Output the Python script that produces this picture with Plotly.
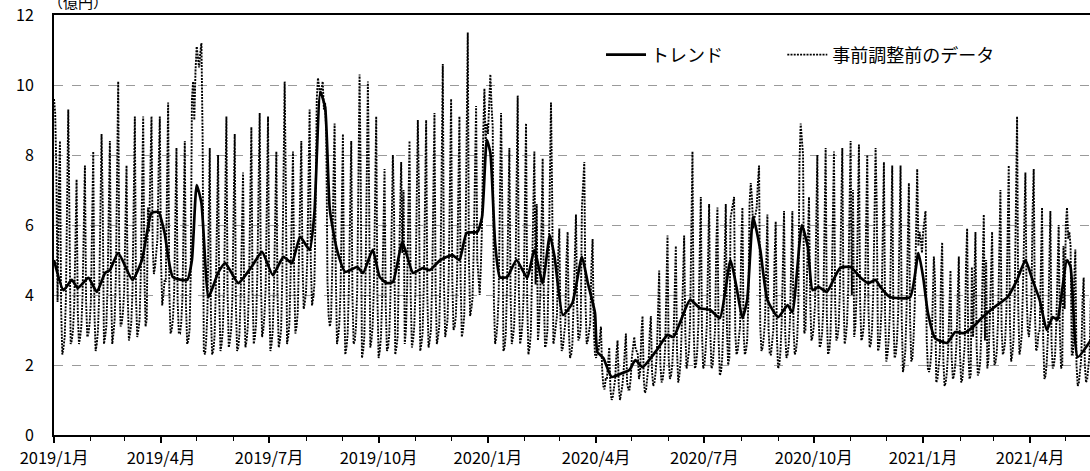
import plotly.graph_objects as go
import pandas as pd

# 事前調整前のデータ (daily, 億円) from 2019-01-01.
# First three days, then one row per Fri..Thu week, then a short tail.
raw_head = [9.6, 9.2, 7.5]
raw_weeks = [
    [3.8, 6.9, 8.4, 3.6, 2.3, 2.5, 2.8],
    [3.9, 7.5, 9.3, 6.2, 2.6, 2.7, 3.0],
    [3.7, 6.0, 7.3, 3.5, 2.6, 2.8, 3.1],
    [4.0, 6.4, 7.7, 3.8, 2.8, 2.9, 3.2],
    [3.8, 6.6, 8.1, 3.5, 2.4, 2.6, 3.0],
    [4.0, 7.0, 8.6, 6.5, 2.6, 2.8, 3.1],
    [4.2, 7.0, 8.4, 4.1, 2.6, 2.9, 3.3],
    [4.5, 8.2, 10.1, 4.4, 3.1, 3.2, 3.5],
    [4.1, 6.4, 7.7, 4.0, 2.7, 2.9, 3.2],
    [4.1, 7.4, 9.1, 3.9, 2.8, 3.0, 3.3],
    [4.6, 7.4, 9.1, 4.6, 3.1, 3.3, 6.5],
    [5.8, 7.8, 9.1, 5.4, 4.6, 4.8, 5.2],
    [5.6, 7.6, 9.1, 5.0, 3.7, 4.0, 4.4],
    [4.4, 7.7, 9.5, 4.1, 2.9, 3.0, 3.3],
    [4.0, 6.7, 8.2, 3.8, 2.9, 2.9, 3.2],
    [3.9, 6.8, 8.4, 3.7, 2.6, 2.7, 3.0],
    [4.6, 9.6, 10.1, 9.0, 10.4, 11.1, 10.8],
    [10.5, 10.9, 11.2, 8.5, 2.4, 2.3, 2.7],
    [3.5, 6.6, 8.2, 3.4, 2.3, 2.4, 2.8],
    [4.0, 6.6, 8.0, 3.9, 2.4, 2.6, 3.0],
    [4.2, 7.4, 9.1, 4.0, 2.5, 2.7, 3.0],
    [3.9, 7.0, 8.6, 3.7, 2.4, 2.5, 2.9],
    [4.0, 6.2, 7.5, 3.9, 2.5, 2.7, 3.1],
    [4.3, 7.2, 8.8, 4.1, 2.6, 2.8, 3.2],
    [4.6, 7.5, 9.2, 4.5, 2.8, 3.0, 3.4],
    [4.2, 7.4, 9.1, 4.0, 2.4, 2.6, 3.0],
    [4.2, 6.8, 8.1, 4.0, 2.5, 2.7, 3.0],
    [4.5, 8.2, 10.1, 7.0, 2.6, 2.8, 3.2],
    [4.6, 6.8, 8.1, 4.5, 2.9, 3.1, 3.5],
    [5.0, 7.0, 8.4, 4.9, 3.6, 3.8, 4.1],
    [5.0, 7.6, 9.3, 4.9, 3.7, 3.9, 4.3],
    [6.5, 9.6, 10.2, 10.0, 9.7, 9.9, 10.1],
    [9.3, 9.5, 8.6, 4.4, 3.4, 3.1, 3.3],
    [4.7, 7.2, 8.9, 4.6, 2.6, 2.8, 3.2],
    [4.1, 7.0, 8.6, 3.9, 2.3, 2.5, 2.9],
    [4.2, 6.9, 8.4, 4.0, 2.6, 2.7, 3.1],
    [4.1, 8.3, 10.3, 7.2, 2.2, 2.4, 2.8],
    [4.4, 8.1, 10.1, 7.0, 2.5, 2.7, 3.1],
    [4.2, 7.4, 9.1, 4.0, 2.2, 2.4, 2.8],
    [3.9, 6.3, 7.6, 3.7, 2.4, 2.5, 2.9],
    [4.0, 6.6, 8.0, 6.4, 2.3, 2.5, 2.8],
    [4.6, 6.5, 7.8, 5.2, 7.0, 2.6, 3.0],
    [4.2, 6.9, 8.4, 4.0, 2.5, 2.7, 3.1],
    [4.1, 7.3, 9.0, 6.8, 2.4, 2.6, 2.9],
    [4.2, 7.3, 9.0, 4.0, 2.5, 2.7, 3.0],
    [4.3, 7.5, 9.2, 4.1, 2.6, 2.8, 3.1],
    [4.5, 8.6, 10.6, 4.3, 2.8, 3.0, 3.3],
    [4.6, 7.8, 9.6, 4.4, 3.0, 3.1, 3.4],
    [4.5, 7.4, 9.1, 4.4, 2.8, 3.0, 3.4],
    [5.2, 9.3, 11.5, 5.0, 3.4, 3.6, 3.9],
    [5.3, 7.7, 9.4, 5.0, 4.4, 4.0, 4.8],
    [6.0, 8.6, 9.9, 8.4, 8.9, 8.6, 9.6],
    [10.3, 9.4, 8.8, 3.8, 2.6, 2.8, 3.2],
    [4.0, 7.5, 9.2, 6.6, 2.4, 2.5, 2.9],
    [4.2, 6.7, 8.2, 4.0, 2.6, 2.8, 3.1],
    [4.3, 7.9, 9.7, 4.1, 2.6, 2.8, 3.2],
    [4.0, 7.2, 8.9, 3.8, 2.3, 2.5, 2.9],
    [4.5, 6.7, 8.1, 4.3, 6.6, 2.7, 3.1],
    [4.0, 6.5, 7.9, 3.9, 2.5, 2.6, 3.0],
    [4.7, 7.7, 9.5, 6.8, 2.6, 2.8, 3.1],
    [3.4, 5.1, 5.9, 3.2, 2.4, 2.5, 2.8],
    [3.2, 5.0, 5.8, 3.0, 2.2, 2.3, 2.6],
    [3.8, 5.5, 6.3, 3.7, 2.7, 2.8, 3.1],
    [6.5, 7.0, 7.8, 3.8, 2.6, 2.7, 3.0],
    [3.2, 4.8, 5.6, 3.0, 2.3, 2.2, 2.5],
    [2.4, 2.8, 3.1, 1.9, 1.4, 1.3, 1.6],
    [1.6, 2.2, 2.5, 1.3, 1.0, 1.1, 1.3],
    [1.6, 2.3, 2.7, 1.4, 1.0, 1.2, 1.4],
    [1.8, 2.6, 2.9, 1.5, 1.3, 1.3, 1.6],
    [2.2, 2.6, 2.8, 2.5, 2.4, 2.3, 1.6],
    [1.8, 2.9, 3.4, 1.6, 1.2, 1.3, 1.6],
    [2.0, 2.9, 3.4, 1.8, 1.4, 1.5, 1.8],
    [2.3, 3.9, 4.7, 2.0, 1.5, 1.6, 1.9],
    [2.5, 4.6, 5.7, 2.2, 1.6, 1.7, 2.0],
    [2.7, 4.5, 5.4, 2.4, 1.5, 1.7, 2.1],
    [3.1, 4.8, 5.7, 2.9, 1.9, 2.1, 2.4],
    [3.3, 6.6, 8.1, 3.0, 1.9, 2.0, 2.4],
    [3.2, 5.6, 6.8, 2.9, 1.9, 2.0, 2.4],
    [3.1, 5.4, 6.6, 2.9, 1.9, 2.0, 2.4],
    [3.0, 5.4, 6.5, 2.7, 1.7, 1.8, 2.2],
    [3.3, 5.5, 6.6, 3.0, 2.0, 2.2, 6.2],
    [6.4, 6.6, 6.8, 2.9, 2.3, 2.4, 2.7],
    [3.1, 5.4, 6.5, 2.9, 2.3, 2.4, 2.7],
    [3.8, 6.6, 7.2, 6.8, 5.9, 6.2, 6.3],
    [6.5, 7.2, 7.7, 3.1, 2.4, 2.5, 2.8],
    [3.3, 5.2, 6.3, 3.0, 2.3, 2.3, 2.6],
    [3.0, 5.0, 6.1, 2.8, 1.9, 2.0, 2.4],
    [3.2, 5.3, 6.4, 2.9, 2.2, 2.3, 2.6],
    [3.3, 5.3, 6.4, 3.0, 2.3, 2.4, 2.7],
    [3.6, 7.8, 8.9, 8.4, 8.0, 2.9, 3.0],
    [4.2, 5.6, 6.8, 3.9, 2.7, 2.8, 3.1],
    [3.7, 6.5, 8.0, 3.5, 2.5, 2.6, 2.9],
    [3.6, 6.7, 8.2, 3.4, 2.3, 2.4, 2.8],
    [4.0, 6.6, 8.1, 3.8, 2.7, 2.8, 3.1],
    [4.2, 6.7, 8.2, 4.0, 2.6, 2.8, 3.2],
    [4.2, 6.8, 8.4, 4.0, 7.0, 2.8, 3.1],
    [4.0, 6.8, 8.3, 3.8, 2.7, 2.8, 3.1],
    [3.9, 6.5, 8.0, 3.6, 2.5, 2.6, 3.0],
    [4.0, 6.7, 8.2, 6.5, 2.4, 2.5, 2.9],
    [3.6, 6.3, 7.8, 3.4, 2.1, 2.3, 2.7],
    [3.5, 6.3, 7.7, 3.3, 2.2, 2.3, 2.7],
    [3.5, 6.2, 7.7, 3.3, 1.8, 2.0, 2.4],
    [3.5, 5.9, 7.2, 3.3, 2.1, 2.2, 2.8],
    [3.8, 6.2, 7.6, 5.4, 5.8, 5.6, 5.2],
    [5.8, 6.2, 6.4, 2.7, 1.9, 1.8, 2.0],
    [2.4, 4.2, 5.1, 4.4, 1.5, 1.6, 1.9],
    [2.3, 4.5, 5.5, 2.1, 1.4, 1.5, 1.8],
    [2.4, 3.9, 4.7, 2.2, 1.6, 1.7, 2.0],
    [2.6, 4.2, 5.1, 2.3, 1.5, 1.6, 2.0],
    [2.6, 4.8, 5.9, 2.4, 1.6, 1.7, 4.8],
    [2.8, 4.8, 5.8, 2.5, 1.7, 1.8, 2.1],
    [3.0, 5.2, 6.3, 2.7, 5.0, 1.9, 2.2],
    [3.2, 4.8, 5.8, 2.9, 2.0, 2.1, 2.4],
    [3.3, 5.8, 7.0, 3.0, 2.3, 2.4, 2.7],
    [3.5, 6.3, 7.7, 3.2, 2.1, 2.3, 2.7],
    [3.9, 7.4, 9.1, 3.6, 2.3, 2.5, 2.9],
    [4.3, 6.3, 7.5, 4.0, 3.0, 2.8, 3.2],
    [3.7, 6.3, 7.6, 3.5, 2.4, 2.5, 2.9],
    [3.0, 5.3, 6.5, 2.7, 1.6, 1.7, 2.1],
    [2.9, 5.2, 6.4, 2.6, 1.9, 2.0, 2.3],
    [3.2, 5.0, 6.0, 2.9, 1.9, 2.0, 5.4],
    [3.6, 6.0, 6.5, 5.6, 5.8, 5.4, 2.3],
    [2.3, 4.4, 5.3, 2.0, 1.4, 1.5, 1.8],
    [2.2, 3.8, 4.5, 2.0, 1.5, 1.6, 1.9],
]
raw_tail = [2.3, 3.9]

raw_values = raw_head + [v for week in raw_weeks for v in week] + raw_tail
raw_dates = pd.date_range("2019-01-01", periods=len(raw_values), freq="D")

# トレンド (億円)
trend_dates = [
    "2019-01-01", "2019-01-09", "2019-01-16", "2019-01-21", "2019-01-30",
    "2019-02-06", "2019-02-13", "2019-02-17", "2019-02-24", "2019-03-08",
    "2019-03-16", "2019-03-24", "2019-03-30", "2019-04-04", "2019-04-11",
    "2019-04-23", "2019-04-27", "2019-05-01", "2019-05-05", "2019-05-11",
    "2019-05-19", "2019-05-25", "2019-06-05", "2019-06-16", "2019-06-25",
    "2019-07-04", "2019-07-13", "2019-07-20", "2019-07-27", "2019-08-04",
    "2019-08-08", "2019-08-13", "2019-08-17", "2019-08-21", "2019-08-27",
    "2019-09-03", "2019-09-13", "2019-09-18", "2019-09-26", "2019-10-02",
    "2019-10-08", "2019-10-13", "2019-10-21", "2019-10-30", "2019-11-07",
    "2019-11-13", "2019-11-22", "2019-12-02", "2019-12-08", "2019-12-14",
    "2019-12-23", "2019-12-27", "2019-12-31", "2020-01-03", "2020-01-07",
    "2020-01-11", "2020-01-17", "2020-01-25", "2020-02-03", "2020-02-09",
    "2020-02-16", "2020-02-22", "2020-02-26", "2020-03-04", "2020-03-12",
    "2020-03-20", "2020-03-25", "2020-03-31", "2020-04-02", "2020-04-07",
    "2020-04-14", "2020-04-23", "2020-04-29", "2020-05-04", "2020-05-10",
    "2020-05-22", "2020-05-31", "2020-06-05", "2020-06-19", "2020-06-27",
    "2020-07-06", "2020-07-14", "2020-07-23", "2020-07-28", "2020-08-02",
    "2020-08-06", "2020-08-11", "2020-08-17", "2020-08-23", "2020-09-01",
    "2020-09-09", "2020-09-13", "2020-09-21", "2020-09-26", "2020-09-30",
    "2020-10-05", "2020-10-12", "2020-10-23", "2020-11-01", "2020-11-09",
    "2020-11-16", "2020-11-22", "2020-11-26", "2020-12-04", "2020-12-21",
    "2020-12-28", "2021-01-01", "2021-01-05", "2021-01-11", "2021-01-21",
    "2021-01-28", "2021-02-04", "2021-02-12", "2021-02-20", "2021-03-01",
    "2021-03-13", "2021-03-21", "2021-03-28", "2021-04-03", "2021-04-09",
    "2021-04-15", "2021-04-20", "2021-04-24", "2021-04-26", "2021-05-02",
    "2021-05-05", "2021-05-11", "2021-05-22",
]
trend_values = [
    5.0, 4.14, 4.43, 4.2, 4.49,
    4.09, 4.63, 4.71, 5.2, 4.43,
    5.0, 6.34, 6.37, 5.77, 4.51,
    4.43, 5.0, 7.14, 6.63, 3.94,
    4.63, 4.91, 4.34, 4.8, 5.23,
    4.57, 5.09, 4.91, 5.66, 5.29,
    6.34, 9.8, 9.37, 6.43, 5.29,
    4.66, 4.8, 4.63, 5.29, 4.51,
    4.34, 4.37, 5.51, 4.63, 4.77,
    4.71, 5.0, 5.14, 5.0, 5.77,
    5.8, 6.23, 8.43, 8.06, 5.49,
    4.51, 4.51, 5.0, 4.49, 5.29,
    4.34, 5.71, 5.09, 3.43, 3.77,
    5.09, 4.34, 3.49, 2.37, 2.2,
    1.66, 1.77, 1.86, 2.14, 1.94,
    2.43, 2.86, 2.8, 3.86, 3.63,
    3.57, 3.34, 5.0, 4.23, 3.34,
    3.86, 6.23, 5.29, 3.86, 3.37,
    3.71, 3.51, 6.0, 5.37, 4.14,
    4.23, 4.09, 4.77, 4.8, 4.51,
    4.34, 4.43, 4.23, 3.94, 3.94,
    5.2, 4.51, 3.49, 2.77, 2.63,
    2.94, 2.91, 3.09, 3.37, 3.63,
    3.94, 4.43, 5.0, 4.43, 3.86,
    3.0, 3.37, 3.29, 3.66, 5.0,
    4.8, 2.23, 2.71,
]

# Quarterly axis labels
tick_dates = [
    "2019-01-01", "2019-04-01", "2019-07-01", "2019-10-01", "2020-01-01",
    "2020-04-01", "2020-07-01", "2020-10-01", "2021-01-01", "2021-04-01",
]
tick_text = [
    "2019/1月", "2019/4月", "2019/7月", "2019/10月", "2020/1月",
    "2020/4月", "2020/7月", "2020/10月", "2021/1月", "2021/4月",
]

FONT = "Noto Sans CJK JP"
x_range = ["2019-01-01", "2021-05-21 08:00"]

fig = go.Figure()

fig.add_trace(go.Scatter(
    x=raw_dates, y=raw_values, mode="lines", name="事前調整前のデータ",
    line=dict(color="#000000", width=1.9, dash="2px,1.2px"),
    legend="legend2",
))
fig.add_trace(go.Scatter(
    x=pd.to_datetime(trend_dates), y=trend_values, mode="lines", name="トレンド",
    line=dict(color="#000000", width=2.7, shape="spline", smoothing=0.5),
    legend="legend",
))

legend_style = dict(
    orientation="h", yanchor="middle", y=0.905,
    bgcolor="rgba(0,0,0,0)", font=dict(size=18, family=FONT, color="black"),
    itemwidth=40,
)

fig.update_layout(
    width=1090, height=471,
    margin=dict(l=54, r=0, t=15, b=36),
    paper_bgcolor="white", plot_bgcolor="white",
    font=dict(family=FONT, color="black", size=16),
    showlegend=True,
    legend=dict(x=0.528, xanchor="left", **legend_style),
    legend2=dict(x=0.703, xanchor="left", **legend_style),
    xaxis=dict(
        type="date", range=x_range,
        tickmode="array", tickvals=tick_dates, ticktext=tick_text,
        ticks="outside", ticklen=6, tickwidth=1.5, tickcolor="black",
        minor=dict(ticks="outside", ticklen=4, tickwidth=1.2, tickcolor="black",
                   dtick="M1", tick0="2019-01-01"),
        showline=True, linecolor="black", linewidth=2, mirror=True,
        showgrid=False, zeroline=False, ticklabelstandoff=1,
        tickfont=dict(size=16.5, family=FONT),
    ),
    xaxis2=dict(
        type="date", range=x_range, overlaying="x", anchor="y", side="bottom",
        tickmode="array", tickvals=tick_dates,
        ticks="inside", ticklen=6, tickwidth=1.5, tickcolor="black",
        showticklabels=False, showline=False, showgrid=False, zeroline=False,
    ),
    yaxis=dict(
        range=[0, 12], dtick=2, tick0=0,
        showline=True, linecolor="black", linewidth=2, mirror=False,
        showgrid=True, gridcolor="#9a9a9a", gridwidth=1, griddash="dash",
        zeroline=False, ticks="", ticklabelstandoff=15,
        tickfont=dict(size=16, family=FONT),
    ),
    annotations=[dict(
        text="（億円）", xref="paper", yref="paper", x=0, y=1,
        xanchor="left", yanchor="middle", xshift=-8, yshift=14,
        showarrow=False, font=dict(size=15, family=FONT),
    )],
)

fig.write_html("out.html")
